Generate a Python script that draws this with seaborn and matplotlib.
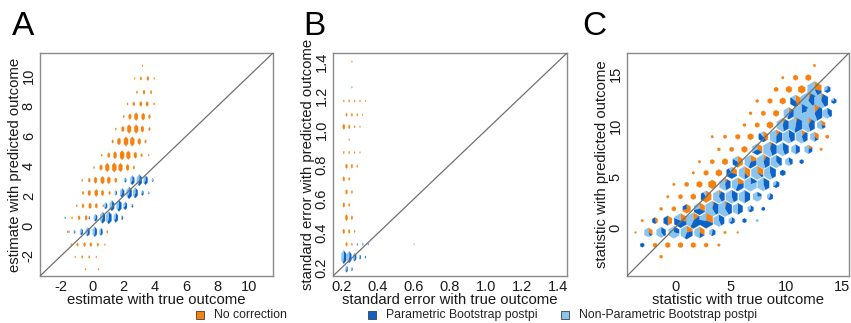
import numpy as np
import pandas as pd
import matplotlib
matplotlib.use("Agg")
import matplotlib.pyplot as plt
from matplotlib.collections import PolyCollection
from matplotlib.patches import Rectangle
import seaborn as sns

sns.set_theme(style="white")
plt.rcParams["font.family"] = ["Liberation Sans", "DejaVu Sans"]

ORANGE = "#F7810F"
DARK = "#0C62C6"
LIGHT = "#88C4EE"
TEXT = "#1a1a1a"

methods = ["No correction", "Parametric Bootstrap postpi", "Non-Parametric Bootstrap postpi"]
method_colors = [ORANGE, DARK, LIGHT]

# ---- panel A: estimates, hexbin cells (x, y, count)
a_orange = [
    (3.2, 10.7, 0.2),
    (2.7, 9.85, 0.2), (3.1, 9.85, 0.6), (3.55, 9.85, 0.9), (3.95, 9.85, 0.2),
    (2.85, 8.93, 0.4), (3.3, 8.93, 0.9), (3.75, 8.93, 0.6),
    (2.25, 8.15, 0.3), (2.65, 8.15, 0.9), (3.1, 8.15, 1.2), (3.5, 8.15, 1.2), (3.95, 8.15, 0.3),
    (2.0, 7.3, 0.4), (2.4, 7.3, 1.6), (2.8, 7.3, 3.0), (3.25, 7.3, 2.5), (3.65, 7.3, 0.9),
    (1.5, 6.47, 0.3), (1.95, 6.47, 1.6), (2.35, 6.47, 3.6), (2.8, 6.47, 3.6), (3.2, 6.47, 2.0), (3.65, 6.47, 0.6),
    (1.3, 5.64, 0.6), (1.7, 5.64, 2.5), (2.15, 5.64, 4.2), (2.55, 5.64, 4.2), (3.0, 5.64, 2.0), (3.4, 5.64, 0.6),
    (0.6, 4.72, 0.3), (1.05, 4.72, 1.2), (1.45, 4.72, 2.5), (1.9, 4.72, 4.2), (2.3, 4.72, 3.6), (2.75, 4.72, 2.0), (3.15, 4.72, 0.6), (3.6, 4.72, 0.2),
    (0.1, 3.9, 0.3), (0.55, 3.9, 1.6), (0.95, 3.9, 3.6), (1.4, 3.9, 4.2), (1.8, 3.9, 3.6), (2.25, 3.9, 2.0), (2.65, 3.9, 0.6),
    (-0.65, 3.05, 0.3), (-0.2, 3.05, 0.9), (0.2, 3.05, 2.0), (0.65, 3.05, 3.0), (1.05, 3.05, 2.5), (1.5, 3.05, 1.2),
    (-0.6, 2.2, 0.6), (-0.2, 2.2, 1.6), (0.25, 2.2, 2.5), (0.65, 2.2, 1.6), (1.1, 2.2, 0.6),
    (-1.0, 1.34, 0.3), (-0.6, 1.34, 0.9), (-0.15, 1.34, 1.6), (0.25, 1.34, 1.2), (0.7, 1.34, 0.3),
    (-1.3, 0.54, 0.3), (-0.85, 0.54, 0.9), (-0.4, 0.54, 1.2),
    (-1.5, -0.4, 0.3), (0.95, -0.4, 0.4),
    (-1.35, -1.25, 0.2), (-0.95, -1.25, 0.6), (-0.5, -1.25, 0.9), (-0.1, -1.25, 0.9), (0.35, -1.25, 0.6), (0.8, -1.25, 0.2),
    (-1.1, -2.08, 0.2), (-0.65, -2.08, 0.4), (-0.2, -2.08, 0.4), (0.25, -2.08, 0.2),
    (-0.45, -2.9, 0.2), (0.4, -2.9, 0.2),
]
# (x, y, parametric, non-parametric)
a_blue = [
    (2.1, 3.05, 0.6, 0.4), (2.55, 3.05, 2.5, 1.5), (3.0, 3.05, 3.5, 2.5), (3.4, 3.05, 2.5, 1.5), (3.85, 3.05, 0.3, 0.2),
    (1.5, 2.2, 0.6, 0.4), (1.9, 2.2, 2.5, 1.5), (2.35, 2.2, 4.0, 2.5), (2.75, 2.2, 3.0, 2.0), (3.2, 2.2, 0.8, 0.4), (3.6, 2.2, 0.2, 0.1),
    (0.85, 1.34, 1.2, 0.8), (1.25, 1.34, 3.0, 2.0), (1.7, 1.34, 3.5, 2.5), (2.1, 1.34, 2.0, 1.0), (2.55, 1.34, 0.4, 0.2),
    (-1.75, 0.54, 0.1, 0.1), (-0.2, 0.54, 0.3, 0.2), (0.2, 0.54, 1.5, 1.0), (0.65, 0.54, 3.5, 2.5), (1.05, 0.54, 4.0, 3.0), (1.5, 0.54, 2.5, 1.5), (1.9, 0.54, 0.5, 0.3),
    (-1.6, -0.4, 0.1, 0.1), (-1.15, -0.4, 0.3, 0.2), (-0.7, -0.4, 1.2, 0.8), (-0.3, -0.4, 2.0, 1.5), (0.15, -0.4, 2.5, 2.0), (0.55, -0.4, 1.5, 1.0),
]

# ---- panel B: standard errors
b_orange = [
    (0.255, 1.40, 0.2), (0.255, 1.25, 0.2),
    (0.21, 1.17, 0.3), (0.24, 1.17, 0.4), (0.27, 1.17, 0.3), (0.30, 1.17, 0.3), (0.33, 1.17, 0.2),
    (0.225, 1.09, 0.6), (0.255, 1.09, 0.6), (0.285, 1.09, 0.4), (0.315, 1.09, 0.2),
    (0.21, 1.02, 1.6), (0.24, 1.02, 0.9), (0.27, 1.02, 0.4), (0.30, 1.02, 0.2),
    (0.24, 0.945, 0.2),
    (0.21, 0.87, 0.4), (0.24, 0.87, 0.4), (0.27, 0.87, 0.3), (0.30, 0.87, 0.2),
    (0.225, 0.79, 1.2), (0.255, 0.79, 0.9), (0.285, 0.79, 0.4),
    (0.21, 0.716, 1.2), (0.24, 0.716, 0.6),
    (0.225, 0.64, 1.2), (0.255, 0.64, 0.6),
    (0.21, 0.564, 1.2), (0.24, 0.564, 0.6),
    (0.225, 0.49, 2.0), (0.255, 0.49, 0.9),
    (0.21, 0.41, 1.2), (0.24, 0.41, 0.9), (0.27, 0.41, 0.4),
    (0.225, 0.335, 0.9), (0.255, 0.335, 0.4),
]
b_blue = [
    (0.285, 0.335, 0.2, 0.1), (0.315, 0.335, 0.2, 0.1), (0.345, 0.335, 0.1, 0.1), (0.60, 0.335, 0.0, 0.2),
    (0.21, 0.26, 5.0, 4.0), (0.24, 0.26, 4.0, 3.0), (0.27, 0.26, 2.0, 1.5), (0.30, 0.26, 0.6, 0.4), (0.33, 0.26, 0.3, 0.0),
    (0.225, 0.19, 1.2, 0.8), (0.255, 0.19, 0.4, 0.2),
]

# ---- panel C: test statistics (x, y, no correction, parametric, non-parametric)
c_cells = [
    (12.55, 15.85, 0.1, 0, 0),
    (9.7, 14.67, 0.1, 0, 0), (10.85, 14.67, 0.5, 0, 0), (12.0, 14.67, 0.7, 0, 0),
    (9.1, 13.53, 0.35, 0, 0), (10.25, 13.53, 0.8, 0, 0), (11.4, 13.53, 1.3, 0, 0), (12.55, 13.53, 2.0, 1.0, 4.0), (13.7, 13.53, 0, 0.6, 0.3),
    (7.4, 12.4, 0.15, 0, 0), (8.55, 12.4, 0.45, 0, 0), (9.7, 12.4, 0.8, 0, 0), (10.85, 12.4, 1.5, 1.5, 0.5), (12.0, 12.4, 0.5, 3.0, 5.5), (13.15, 12.4, 0.3, 2.5, 4.0), (14.3, 12.4, 0, 0.4, 0.1),
    (6.8, 11.2, 0.15, 0, 0), (7.95, 11.2, 0.4, 0, 0), (9.1, 11.2, 0.75, 0, 0), (10.25, 11.2, 0.3, 1.5, 1.5), (11.4, 11.2, 0, 2.0, 8.0), (12.55, 11.2, 1.0, 3.0, 5.0), (13.7, 11.2, 0, 1.0, 1.5),
    (6.25, 10.06, 0.15, 0, 0), (7.4, 10.06, 0.4, 0, 0), (8.55, 10.06, 0.9, 0, 0), (9.7, 10.06, 0.3, 2.0, 2.5), (10.85, 10.06, 0.3, 3.0, 3.0), (12.0, 10.06, 0.5, 2.0, 3.0), (13.15, 10.06, 0.5, 0.3, 1.0),
    (3.35, 8.92, 0.1, 0, 0), (4.5, 8.92, 0.2, 0, 0), (5.65, 8.92, 0.45, 0, 0), (6.8, 8.92, 0.75, 0, 0), (7.95, 8.92, 1.0, 1.2, 0.3), (9.1, 8.92, 0.5, 2.0, 2.5), (10.25, 8.92, 0, 2.0, 2.5), (11.4, 8.92, 0.5, 1.5, 2.5), (12.55, 8.92, 0.7, 0.3, 1.0), (13.7, 8.92, 0.2, 0, 0),
    (3.95, 7.69, 0.15, 0, 0), (5.1, 7.69, 0.35, 0, 0), (6.25, 7.69, 0.75, 0, 0), (7.4, 7.69, 1.0, 1.0, 1.0), (8.55, 7.69, 0.3, 2.5, 3.5), (9.7, 7.69, 0, 2.0, 2.5), (10.85, 7.69, 0, 1.0, 1.0), (12.0, 7.69, 0.3, 0.5, 0.8), (13.15, 7.69, 0.1, 0, 0),
    (2.2, 6.49, 0.1, 0, 0), (3.35, 6.49, 0.35, 0, 0), (4.5, 6.49, 0.75, 0, 0), (5.65, 6.49, 1.5, 1.0, 0.5), (6.8, 6.49, 1.0, 1.5, 2.0), (7.95, 6.49, 0.5, 2.0, 3.0), (9.1, 6.49, 0, 1.5, 2.5), (10.25, 6.49, 0, 0.6, 0.8), (11.4, 6.49, 0, 0.3, 0),
    (1.65, 5.4, 0.1, 0, 0), (2.8, 5.4, 0.45, 0, 0), (3.95, 5.4, 0.9, 0, 0), (5.1, 5.4, 1.0, 2.0, 0.3), (6.25, 5.4, 1.5, 0.5, 2.0), (7.4, 5.4, 1.5, 0.3, 3.0), (8.55, 5.4, 0, 2.0, 2.5), (9.7, 5.4, 0, 0.6, 0),
    (-0.1, 4.28, 0.1, 0, 0), (1.05, 4.28, 0.35, 0, 0), (2.2, 4.28, 0.75, 0, 0), (3.35, 4.28, 1.6, 0, 0), (4.5, 4.28, 0.3, 1.5, 2.0), (5.65, 4.28, 1.0, 1.5, 2.0), (6.8, 4.28, 0, 1.0, 4.0), (7.95, 4.28, 0, 2.0, 2.5), (9.1, 4.28, 0, 0.6, 0.3),
    (-0.65, 3.08, 0.1, 0, 0), (0.5, 3.08, 0.35, 0, 0), (1.65, 3.08, 0.6, 0, 0), (2.8, 3.08, 2.0, 1.0, 0.3), (3.95, 3.08, 0.3, 1.5, 2.5), (5.1, 3.08, 0, 2.0, 2.5), (6.25, 3.08, 0, 2.0, 2.0), (7.4, 3.08, 0, 0.5, 1.5), (8.55, 3.08, 0, 0.5, 0.3),
    (-1.25, 1.9, 0.15, 0, 0), (-0.1, 1.9, 0.35, 0, 0), (1.05, 1.9, 1.2, 0.5, 0), (2.2, 1.9, 1.2, 1.5, 1.0), (3.35, 1.9, 0.3, 2.5, 4.0), (4.5, 1.9, 0.3, 2.5, 4.0), (5.65, 1.9, 0, 1.5, 1.5), (6.8, 1.9, 0, 0.5, 0.3), (7.95, 1.9, 0, 0.2, 0),
    (-2.95, 0.75, 0.1, 0, 0), (-1.8, 0.75, 0.3, 0.4, 0), (-0.65, 0.75, 1.0, 1.0, 0), (0.5, 0.75, 1.5, 3.0, 1.0), (1.65, 0.75, 1.0, 3.0, 3.0), (2.8, 0.75, 2.0, 3.0, 1.5), (3.95, 0.75, 0, 1.5, 2.0), (5.1, 0.75, 0, 0.5, 0.3), (6.25, 0.75, 0, 0.3, 0), (7.4, 0.75, 0, 0, 0.1),
    (-3.55, -0.4, 0.05, 0, 0), (-2.4, -0.4, 0.6, 0.2, 1.0), (-1.25, -0.4, 0, 1.0, 1.5), (-0.1, -0.4, 0, 1.0, 2.5), (1.05, -0.4, 1.0, 1.5, 2.0), (2.2, -0.4, 1.0, 0.5, 1.5), (3.35, -0.4, 0, 0.5, 0.4), (4.5, -0.4, 0.1, 0, 0), (5.65, -0.4, 0.05, 0, 0),
    (-2.95, -1.63, 0, 0.3, 0), (-1.8, -1.63, 0.3, 0, 0), (-0.65, -1.63, 0.5, 0, 0), (0.5, -1.63, 0.5, 0, 0), (1.65, -1.63, 0.5, 0, 0), (2.8, -1.63, 0.3, 0, 0), (3.95, -1.63, 0.1, 0, 0),
    (-1.25, -2.76, 0.15, 0, 0),
]

COLS = ["x", "y", "orange", "dark", "light"]


def to_frame(orange, blue):
    o = pd.DataFrame(orange, columns=["x", "y", "orange"]).assign(dark=0.0, light=0.0)
    b = pd.DataFrame(blue, columns=["x", "y", "dark", "light"]).assign(orange=0.0)
    return pd.concat([o, b], ignore_index=True)[COLS]


df_a = to_frame(a_orange, a_blue)
df_b = to_frame(b_orange, b_blue)
df_c = pd.DataFrame(c_cells, columns=COLS)

W, H = 851, 323
fig = plt.figure(figsize=(W / 100, H / 100), dpi=100)


def hex_pies(ax, df, pos, rx_px, ry_px, power, nmax=10.0):
    # hexagon glyph per cell, split into sectors by method share
    x0, x1 = ax.get_xlim()
    y0, y1 = ax.get_ylim()
    sx = (x1 - x0) / (pos[2] * W)
    sy = (y1 - y0) / (pos[3] * H)
    polys, cols = [], []
    for row in df.itertuples():
        counts = [row.orange, row.dark, row.light]
        total = sum(counts)
        size = (total / nmax) ** power
        start = 90.0
        for n, col in zip(counts, method_colors):
            if n <= 0:
                continue
            end = start - 360.0 * n / total
            angs = [start] + [v for v in range(390, -331, -60) if end < v < start] + [end]
            pts = [] if n >= total else [(row.x, row.y)]
            for t in angs:
                r = np.cos(np.pi / 6) / np.cos(np.radians(t - 60 * np.round(t / 60)))
                pts.append((row.x + r * np.cos(np.radians(t)) * rx_px * size * sx,
                            row.y + r * np.sin(np.radians(t)) * ry_px * size * sy))
            polys.append(pts)
            cols.append(col)
            start = end
    ax.add_collection(PolyCollection(polys, facecolors=cols, edgecolors=cols,
                                     linewidths=0.15, zorder=2))


def panel(pos, lim, ticks, ticklabels, xlabel, ylabel, df, rx, ry, power, letter, letter_x):
    ax = fig.add_axes(pos)
    ax.set_xlim(lim[0])
    ax.set_ylim(lim[1])
    ax.set_xticks(ticks)
    ax.set_xticklabels(ticklabels)
    ax.set_yticks(ticks)
    ax.set_yticklabels(ticklabels, rotation=90, va="center")
    ax.tick_params(axis="both", direction="out", length=3, width=0.8, color="#7a7a7a",
                   labelsize=10.5, labelcolor=TEXT)
    ax.tick_params(axis="x", pad=0)
    ax.tick_params(axis="y", pad=0)
    for sp in ax.spines.values():
        sp.set_color("#8a8a8a")
        sp.set_linewidth(1.0)
    ax.set_xlabel(xlabel, fontsize=10.7, color=TEXT, labelpad=-1)
    ax.set_ylabel(ylabel, fontsize=10.7, color=TEXT, labelpad=0)
    hex_pies(ax, df, pos, rx, ry, power)
    ax.plot([0, 1], [0, 1], transform=ax.transAxes, color="#707070", lw=0.9, zorder=3)
    fig.text(letter_x / W, 1 - 35 / H, letter, fontsize=24, color="black",
             ha="left", va="baseline")
    return ax


a_ticks = [-2, 0, 2, 4, 6, 8, 10]
panel([40 / W, 47 / H, 233 / W, 223 / H], ((-3.35, 11.55), (-3.35, 11.55)),
      a_ticks, [str(t) for t in a_ticks],
      "estimate with true outcome", "estimate with predicted outcome",
      df_a, 3.7, 7.3, 0.5, "A", 12)

b_ticks = [0.2, 0.4, 0.6, 0.8, 1.0, 1.2, 1.4]
panel([333 / W, 47 / H, 234 / W, 223 / H], ((0.15, 1.45), (0.15, 1.45)),
      b_ticks, [f"{t:.1f}" for t in b_ticks],
      "standard error with true outcome", "standard error with predicted outcome",
      df_b, 3.0, 7.0, 0.5, "B", 303)

c_ticks = [0, 5, 10, 15]
panel([627 / W, 47 / H, 222 / W, 223 / H], ((-4.32, 15.66), (-4.64, 17.07)),
      c_ticks, [str(t) for t in c_ticks],
      "statistic with true outcome", "statistic with predicted outcome",
      df_c, 9.2, 9.2, 0.4, "C", 582)

# legend along the bottom
legend_sq_px = [196, 368, 561]
for label, col, left in zip(methods, method_colors, legend_sq_px):
    fig.patches.append(Rectangle((left / W, 4 / H), 8 / W, 8 / H, transform=fig.transFigure,
                                 facecolor=col, edgecolor="#404040", linewidth=0.6))
    fig.text((left + 18) / W, 8 / H, label, fontsize=8.8, color="#222222",
             ha="left", va="center")

fig.savefig("out.png", dpi=100)
